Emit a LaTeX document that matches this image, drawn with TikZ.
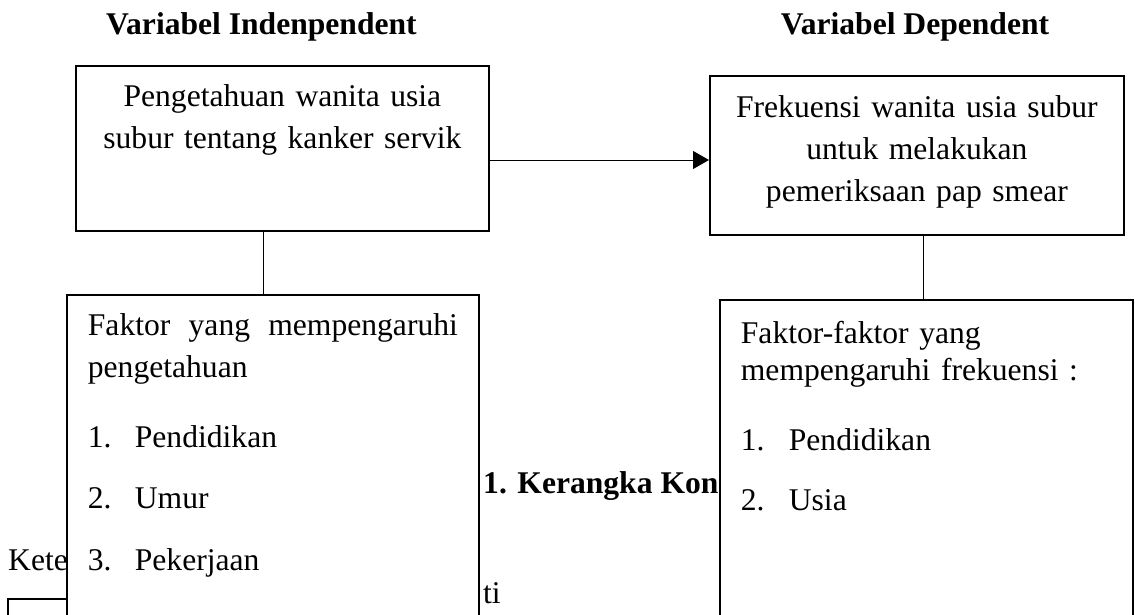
\documentclass[tikz,border=0pt]{standalone}
\usepackage{fontspec}
\setmainfont{Liberation Serif}
\usetikzlibrary{arrows.meta}
\newcommand\myfs{\fontsize{31.6}{41.7}\selectfont}
\begin{document}
\begin{tikzpicture}[x=1pt,y=-1pt,
  every node/.style={font=\myfs, inner sep=0pt},
  box/.style={draw, line width=1.8pt, fill=white, anchor=north west},
  conn/.style={line width=1pt}]
\useasboundingbox (0,0) rectangle (1135,615);
\clip (0,0) rectangle (1135,615);
% titles
\node[anchor=base, font=\myfs\bfseries] (t1) at (261.5,35) {Variabel Indenpendent};
\node[anchor=base, font=\myfs\bfseries] (t2) at (915,35) {Variabel Dependent};
% partly hidden background texts
\node[anchor=base west, font=\myfs\bfseries] (cap) at (483,493) {1. Kerangka Kon};
\node[anchor=base west] (ket) at (8,570) {Kete};
\node[anchor=base west] (ti) at (483,603) {ti};
\node[draw, line width=1.5pt, anchor=north west, minimum width=100pt, minimum height=60pt] (leg) at (7,598) {};
% boxes
\node[box, text width=413pt, align=center, text height=41pt, text depth=124pt] (b1) at (75,65)
  {Pengetahuan wanita usia\\subur tentang kanker servik};
\node[box, text width=414pt, align=center, text height=42pt, text depth=117pt] (b2) at (709,75)
  {Frekuensi wanita usia subur\\untuk melakukan\\pemeriksaan pap smear};
\node[box, text width=370pt, inner xsep=21pt, align=left, text height=41pt, text depth=330pt] (b3) at (66,294)
  {\makebox[370pt][l]{Faktor\hfill yang\hfill mempengaruhi}\\pengetahuan\\[28pt]\makebox[47pt][l]{1.}Pendidikan\\[19.5pt]\makebox[47pt][l]{2.}Umur\\[20.5pt]\makebox[47pt][l]{3.}Pekerjaan};
\node[box, text width=371pt, inner xsep=21pt, align=left, text height=44pt, text depth=330pt] (b4) at (719,299)
  {Faktor-faktor yang\\[-5pt]mempengaruhi frekuensi :\\[28pt]\makebox[48pt][l]{1.}Pendidikan\\[18pt]\makebox[48pt][l]{2.}Usia};
% connectors
\coordinate (ay) at (0,160);
\draw[conn, -{Triangle[length=16pt,width=18pt]}] (b1.east |- ay) -- (b2.west |- ay);
\coordinate (v1) at (263.5,0);
\draw[conn] (b1.south -| v1) -- (b3.north -| v1);
\coordinate (v2) at (923,0);
\draw[conn] (b2.south -| v2) -- (b4.north -| v2);
\end{tikzpicture}
\end{document}
